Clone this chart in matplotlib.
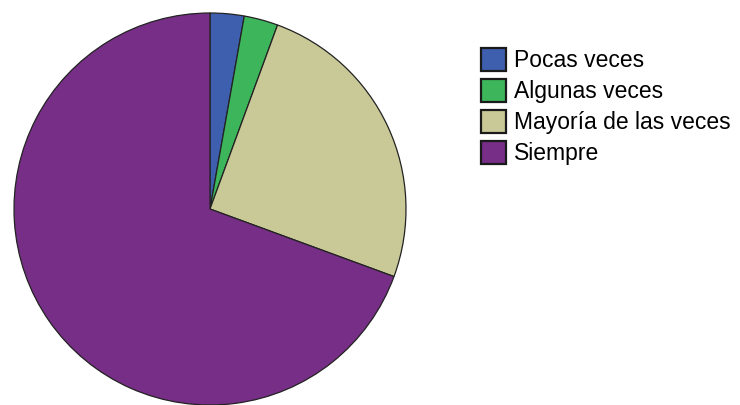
import matplotlib
matplotlib.use("Agg")
import matplotlib.pyplot as plt
from matplotlib.patches import Patch

# datos (porcentajes aproximados)
categorias = ["Pocas veces", "Algunas veces", "Mayoría de las veces", "Siempre"]
valores = [2.8, 2.8, 25.0, 69.4]
colores = ["#3E5EAE", "#3CB55B", "#C9C998", "#772E86"]

plt.rcParams['font.family'] = ['Liberation Sans', 'DejaVu Sans']

fig = plt.figure(figsize=(7.4, 4.05), dpi=100)
ax = fig.add_axes([14/740, 0, 392/740, 392/405])

ax.pie(valores, colors=colores, startangle=90, counterclock=False,
       wedgeprops=dict(edgecolor="#222222", linewidth=0.9))
ax.set_xlim(-1, 1)
ax.set_ylim(-1, 1)
ax.set_aspect("equal")

handles = [Patch(facecolor=c, edgecolor="#1a1a1a", linewidth=1.6) for c in colores]
fig.legend(handles, categorias, loc="upper left", bbox_to_anchor=(481/740, 1 - 48/405),
           frameon=False, fontsize=16.5, handlelength=1.1, handleheight=1.2,
           handletextpad=0.35, labelspacing=0.28, borderpad=0, borderaxespad=0)

fig.savefig("out.png", dpi=100)
